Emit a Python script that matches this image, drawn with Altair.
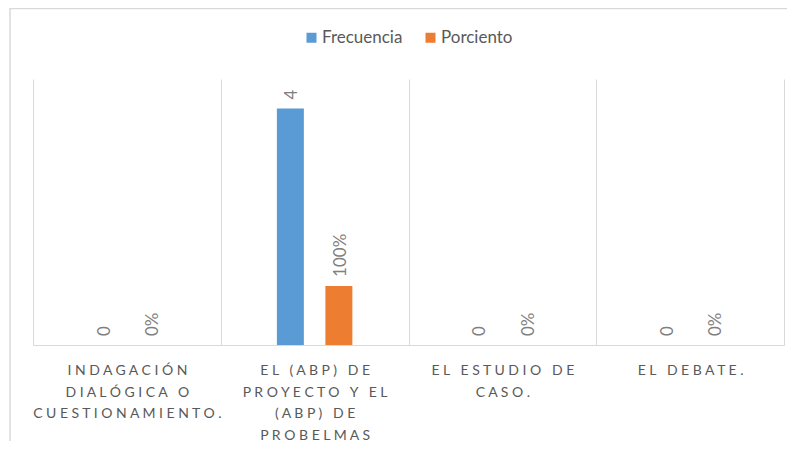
import json
import altair as alt
import pandas as pd

# ---- data ----
categories = [
    "INDAGACIÓN DIALÓGICA O CUESTIONAMIENTO.",
    "EL (ABP) DE PROYECTO Y EL (ABP) DE PROBELMAS",
    "EL ESTUDIO DE CASO.",
    "EL DEBATE.",
]
label_lines = [
    ["INDAGACIÓN", "DIALÓGICA O", "CUESTIONAMIENTO."],
    ["EL (ABP) DE", "PROYECTO Y EL", "(ABP) DE", "PROBELMAS"],
    ["EL ESTUDIO DE", "CASO."],
    ["EL DEBATE."],
]
series_names = ["Frecuencia", "Porciento"]
frecuencia = [0, 4, 0, 0]
porciento = [0, 1, 0, 0]  # 0%, 100%, 0%, 0%
colors = ["#5B9BD5", "#ED7D31"]

rows = []
for cat, f, p in zip(categories, frecuencia, porciento):
    rows.append({"cat": cat, "series": series_names[0], "value": f})
    rows.append({"cat": cat, "series": series_names[1], "value": p})
df = pd.DataFrame(rows)


def spaced(line):
    # letter-spaced text; word gaps kept with a no-break space so SVG does not collapse them
    return " ".join("\u00a0" if ch == " " else ch for ch in line)


# multi-line, letter-spaced axis labels
expr = ""
for cat, lines in zip(categories, label_lines):
    sp = [spaced(l) for l in lines]
    expr += f"datum.value == {json.dumps(cat, ensure_ascii=False)} ? {json.dumps(sp, ensure_ascii=False)} : "
expr += "datum.label"

FONT = "Lato"
W, H = 751, 266

x_enc = alt.X(
    "cat:N",
    sort=categories,
    scale=alt.Scale(paddingInner=0, paddingOuter=0),
    axis=alt.Axis(
        title=None,
        labelAngle=0,
        labelExpr=expr,
        labelFont=FONT,
        labelFontSize=14,
        labelColor="#595959",
        labelLineHeight=21.5,
        labelPadding=18.5,
        labelLimit=400,
        labelOverlap=False,
        labelBaseline="top",
        ticks=False,
        tickBand="extent",
        grid=True,
        gridColor="#d9d9d9",
        gridWidth=1,
        domainColor="#d9d9d9",
        domainWidth=1,
    ),
)
off_scale = alt.Scale(paddingInner=0.129, paddingOuter=1)
y_enc = alt.Y("value:Q", scale=alt.Scale(domain=[0, 4.5]), axis=None)

bars = alt.Chart(df).mark_bar(width=27).encode(
    x=x_enc,
    xOffset=alt.XOffset("series:N", sort=series_names, scale=off_scale),
    y=y_enc,
    color=alt.Color(
        "series:N",
        sort=series_names,
        scale=alt.Scale(domain=series_names, range=colors),
        legend=alt.Legend(
            title=None,
            orient="none",
            direction="horizontal",
            legendX=270,
            legendY=-50,
            symbolType="square",
            symbolSize=100,
            symbolStrokeWidth=0,
            labelFont=FONT,
            labelFontSize=17,
            labelColor="#595959",
            labelOffset=2,
            columnPadding=19,
            padding=0,
        ),
    ),
)

labels = alt.Chart(df).transform_calculate(
    txt="datum.series == 'Porciento' ? format(datum.value, '.0%') : format(datum.value, 'd')"
).mark_text(
    angle=270, align="left", baseline="middle", dx=9, dy=2,
    font=FONT, fontSize=17, color="#7f7f7f",
).encode(
    x=alt.X("cat:N", sort=categories),
    xOffset=alt.XOffset("series:N", sort=series_names),
    y=y_enc,
    text="txt:N",
)

border = alt.Chart(pd.DataFrame({"k": [0]})).mark_rect(
    filled=False, stroke="#d9d9d9", strokeWidth=1.5
).encode(
    x=alt.value(-23), x2=alt.value(900), y=alt.value(-70.5), y2=alt.value(600)
)

chart = alt.layer(border, bars, labels).properties(
    width=W, height=H,
    autosize=alt.AutoSizeParams(type="none"),
    padding={"left": 25, "top": 71, "right": 3, "bottom": 96},
    background="white",
).configure_view(stroke=None)

chart.save("out.html", embed_options={"renderer": "svg", "actions": False})
